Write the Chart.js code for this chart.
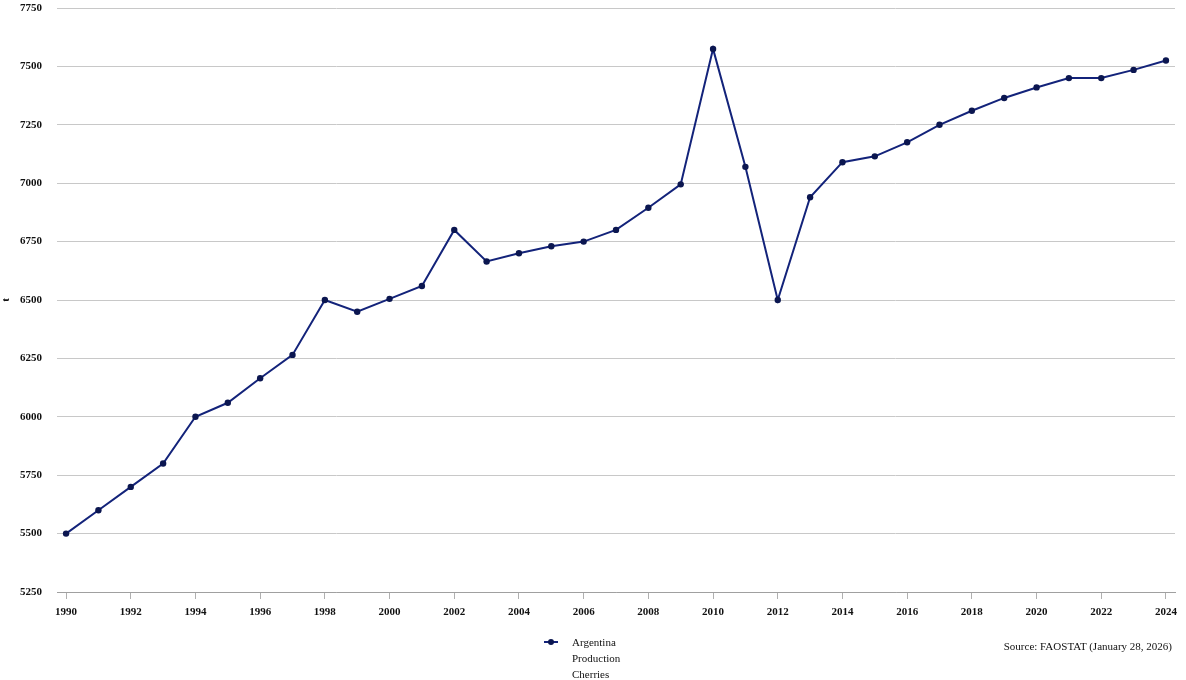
<!DOCTYPE html>
<html>
<head>
<meta charset="utf-8">
<script src="https://cdn.jsdelivr.net/npm/chart.js@4.4.1/dist/chart.umd.min.js"></script>
<style>
  html, body { margin: 0; padding: 0; background: #fff; }
  #wrap { position: relative; width: 1186px; height: 680px; }
  #legend { position: absolute; left: 544px; top: 634px; font: 11px "Liberation Serif", serif; color: #111; line-height: 16px; }
  #legend .mark { position: absolute; left: 0; top: 7px; width: 14px; height: 2px; background: #13237a; }
  #legend .mark::after { content: ''; position: absolute; left: 4px; top: -2px; width: 6px; height: 6px; border-radius: 3px; background: #0b1650; }
  #legend .txt { margin-left: 28px; }
  #source { position: absolute; right: 14px; top: 640px; font: 11px "Liberation Serif", serif; color: #111; }
</style>
</head>
<body>
<div id="wrap">
  <canvas id="chart" width="1186" height="680"></canvas>
  <div id="legend"><span class="mark"></span><div class="txt">Argentina<br>Production<br>Cherries</div></div>
  <div id="source">Source: FAOSTAT (January 28, 2026)</div>
</div>
<script>
const years = [1990, 1991, 1992, 1993, 1994, 1995, 1996, 1997, 1998, 1999,
  2000, 2001, 2002, 2003, 2004, 2005, 2006, 2007, 2008, 2009,
  2010, 2011, 2012, 2013, 2014, 2015, 2016, 2017, 2018, 2019,
  2020, 2021, 2022, 2023, 2024];
const production = [5500, 5600, 5700, 5800, 6000, 6060, 6165, 6265, 6500, 6450,
  6505, 6560, 6800, 6665, 6700, 6730, 6750, 6800, 6895, 6995,
  7575, 7070, 6500, 6940, 7090, 7115, 7175, 7250, 7310, 7365,
  7410, 7450, 7450, 7485, 7525];
const xTicks = [1990, 1992, 1994, 1996, 1998, 2000, 2002, 2004, 2006, 2008, 2010, 2012,
  2014, 2016, 2018, 2020, 2022, 2024];
const yTicks = [5250, 5500, 5750, 6000, 6250, 6500, 6750, 7000, 7250, 7500, 7750];

const tickFont = { family: 'Liberation Serif', size: 11, weight: 'bold' };

new Chart(document.getElementById('chart'), {
  type: 'line',
  data: {
    datasets: [{
      label: 'Argentina Production Cherries',
      data: years.map((y, i) => ({ x: y, y: production[i] })),
      borderColor: '#13237a',
      backgroundColor: '#0b1650',
      borderWidth: 2,
      pointRadius: 3.2,
      pointBackgroundColor: '#0b1650',
      pointBorderWidth: 0,
      tension: 0
    }]
  },
  options: {
    responsive: false,
    animation: false,
    layout: { padding: { top: 8, right: 11, left: 0, bottom: 0 } },
    plugins: { legend: { display: false }, tooltip: { enabled: false } },
    scales: {
      x: {
        type: 'linear',
        min: 1989.72,
        max: 2024.28,
        afterBuildTicks: s => { s.ticks = xTicks.map(v => ({ value: v })); },
        afterFit: s => { s.height = 88; s.paddingLeft = 0; s.paddingRight = 0; },
        grid: { drawOnChartArea: false, drawTicks: true, tickLength: 7, color: '#b0b0b0' },
        border: { display: true, color: '#a0a0a0', width: 1 },
        ticks: { font: tickFont, color: '#111', padding: 7, maxRotation: 0, callback: v => String(v) }
      },
      y: {
        min: 5250,
        max: 7750,
        afterBuildTicks: s => { s.ticks = yTicks.map(v => ({ value: v })); },
        afterFit: s => { s.width = 57; s.paddingTop = 0; s.paddingBottom = 0; },
        grid: { color: '#c8c8c8', lineWidth: 1, drawTicks: false },
        border: { display: false },
        title: { display: true, text: 't', font: { family: 'Liberation Serif', size: 11, weight: 'bold' }, color: '#111', padding: { top: 0, bottom: 0 } },
        ticks: { font: tickFont, color: '#111', padding: 15, callback: v => String(v) }
      }
    }
  }
});
</script>
</body>
</html>
